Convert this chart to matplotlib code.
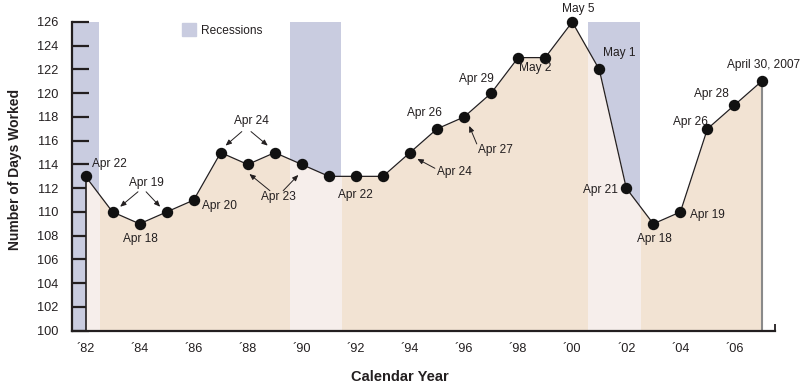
import numpy as np
import matplotlib
matplotlib.use("Agg")
import matplotlib.pyplot as plt
from matplotlib.patches import Patch

plt.rcParams['font.family'] = ['Liberation Sans', 'DejaVu Sans']

# Days worked to pay taxes, by calendar year
years = list(range(1982, 2008))
days = [113, 110, 109, 110, 111, 115, 114, 115, 114, 113, 113, 113, 115,
        117, 118, 120, 123, 123, 126, 122, 112, 109, 110, 117, 119, 121]

# recession periods (start, end) in the year-centred x scale
recessions = [(1981.5, 1982.5), (1989.55, 1991.45), (2000.6, 2002.5)]

tick_years = list(range(1982, 2008, 2))
tick_labels = ["\u00b4%02d" % (y % 100) for y in tick_years]

# date labels: text, x, y, horizontal alignment
date_labels = [
    ("Apr 22", 1982.24, 114.07, "left"),
    ("Apr 19", 1984.26, 112.44, "center"),
    ("Apr 18", 1984.02, 107.7, "center"),
    ("Apr 20", 1986.3, 110.5, "left"),
    ("Apr 24", 1988.15, 117.7, "center"),
    ("Apr 23", 1989.14, 111.3, "center"),
    ("Apr 22", 1992.0, 111.4, "center"),
    ("Apr 24", 1995.01, 113.4, "left"),
    ("Apr 26", 1994.54, 118.35, "center"),
    ("Apr 27", 1997.17, 115.19, "center"),
    ("Apr 29", 1996.46, 121.2, "center"),
    ("May 2", 1998.65, 122.14, "center"),
    ("May 5", 2000.23, 127.12, "center"),
    ("May 1", 2001.12, 123.35, "left"),
    ("Apr 21", 2001.67, 111.87, "right"),
    ("Apr 18", 2003.03, 107.7, "center"),
    ("Apr 19", 2004.36, 109.76, "left"),
    ("Apr 26", 2005.0, 117.55, "right"),
    ("Apr 28", 2005.13, 119.97, "center"),
    ("April 30, 2007", 2007.06, 122.42, "center"),
]

# pointer arrows: (tail x, tail y, head x, head y)
arrows = [
    (1983.94, 111.7, 1983.28, 110.44),
    (1984.24, 111.7, 1984.76, 110.44),
    (1987.78, 116.77, 1987.18, 115.59),
    (1988.12, 116.77, 1988.74, 115.59),
    (1988.82, 111.79, 1988.06, 113.2),
    (1989.31, 111.79, 1989.87, 113.12),
    (1994.92, 113.68, 1994.27, 114.47),
    (1996.47, 115.73, 1996.19, 117.25),
]

dark = "#231f20"
band_color = "#c9cce0"
fill_color = "#f2e3d3"
fill_rec_color = "#f6eeeb"

fig = plt.figure(figsize=(8.09, 3.88), dpi=100)
ax = fig.add_axes([0.089, 0.1477, 0.869, 0.7956])

x = np.array(years, dtype=float)
y = np.array(days, dtype=float)

for a, b in recessions:
    ax.axvspan(a, b, ymin=0, ymax=1, color=band_color, lw=0, zorder=1)

ax.fill_between(x, 100, y, color=fill_color, lw=0, zorder=2)
# lighter fill under the curve inside each recession span
for a, b in recessions:
    poly = ax.fill_between(x, 100, y, color=fill_rec_color, lw=0, zorder=3)
    clip = plt.Rectangle((a, 100), b - a, 30, transform=ax.transData)
    poly.set_clip_path(clip)

ax.plot([x[0], x[0]], [100, y[0]], color=dark, lw=1.2, zorder=4)
ax.plot([x[-1], x[-1]], [100, y[-1]], color="#8a8a8a", lw=1.5, zorder=4)
ax.plot(x, y, color=dark, lw=0.9, zorder=5)
ax.plot(x, y, "o", color="#111111", ms=7.2, zorder=6, clip_on=False)

for txt, tx, ty, ha in date_labels:
    ax.text(tx, ty, txt, ha=ha, va="center", fontsize=8.6, color=dark, zorder=7)

for x0, y0, x1, y1 in arrows:
    ax.annotate("", xy=(x1, y1), xytext=(x0, y0),
                arrowprops=dict(arrowstyle="-|>,head_length=0.35,head_width=0.15",
                                color=dark, lw=0.7, shrinkA=0, shrinkB=0),
                zorder=7)

ax.set_xlim(1981.5, 2007.5)
ax.set_ylim(100, 126)
ax.spines["top"].set_visible(False)
ax.spines["right"].set_visible(False)
for s in ("left", "bottom"):
    ax.spines[s].set_color(dark)
    ax.spines[s].set_linewidth(1.6)
    ax.spines[s].set_zorder(8)

ax.set_yticks(range(100, 127, 2))
ax.tick_params(axis="y", direction="in", length=12, width=1.6, color=dark,
               labelsize=9.2, labelcolor=dark, pad=10)
ax.set_xticks(np.arange(1982.5, 2008, 1.0))
ax.set_xticklabels([])
ax.tick_params(axis="x", direction="in", length=5, width=1.3, color=dark)
for yr, lab in zip(tick_years, tick_labels):
    ax.text(yr, -0.06, lab, transform=ax.get_xaxis_transform(), ha="center",
            va="center", fontsize=9.2, color=dark)

ax.set_xlabel("Calendar Year", fontsize=10.5, fontweight="bold", color=dark,
              va="center")
ax.set_ylabel("Number of Days Worked", fontsize=10, fontweight="bold", color=dark,
              va="center")
ax.xaxis.set_label_coords(0.4666, -0.151)
ax.yaxis.set_label_coords(-0.081, 0.523)

leg = ax.legend(handles=[Patch(color=band_color, label="Recessions")],
                loc="upper left", bbox_to_anchor=(0.141, 1.03), frameon=False,
                fontsize=8.6, handlelength=1.2, handleheight=1.2, handletextpad=0.4)
for t in leg.get_texts():
    t.set_color(dark)

fig.savefig("out.png", dpi=100)
